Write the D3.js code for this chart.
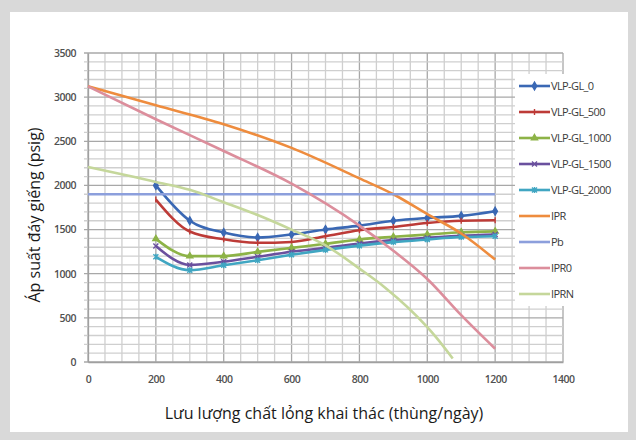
<!DOCTYPE html>
<html>
<head>
<meta charset="utf-8">
<script src="https://cdn.jsdelivr.net/npm/d3@7"></script>
<style>
  body { margin: 0; background: #d9d9d9; }
  svg { display: block; }
</style>
</head>
<body>
<script>
// values
var qVLP = [200, 300, 400, 500, 600, 700, 800, 900, 1000, 1100, 1200];
var vlp0    = [2000, 1600, 1466, 1410, 1445, 1500, 1545, 1600, 1632, 1655, 1708];
var vlp500  = [1840, 1478, 1390, 1350, 1360, 1425, 1493, 1530, 1575, 1600, 1605];
var vlp1000 = [1395, 1199, 1200, 1247, 1293, 1339, 1388, 1418, 1444, 1470, 1480];
var vlp1500 = [1315, 1100, 1135, 1192, 1248, 1293, 1342, 1380, 1406, 1430, 1444];
var vlp2000 = [1192, 1040, 1095, 1153, 1215, 1270, 1318, 1358, 1388, 1415, 1425];

var qIPR  = [0, 200, 400, 600, 800, 900, 1000, 1100, 1200];
var ipr   = [3122, 2908, 2694, 2425, 2080, 1900, 1675, 1455, 1160];
var qPb   = [0, 1200];
var pb    = [1900, 1900];
var qIPR0 = [0, 200, 400, 600, 800, 900, 1000, 1100, 1200];
var ipr0  = [3122, 2750, 2390, 2020, 1545, 1260, 940, 530, 150];
var qIPRN = [0, 200, 300, 400, 500, 600, 700, 800, 875, 1000, 1025, 1075];
var iprn  = [2208, 2040, 1950, 1810, 1665, 1500, 1322, 1058, 845, 395, 285, 40];

var xTicks = [0, 200, 400, 600, 800, 1000, 1200, 1400];
var yTicks = [0, 500, 1000, 1500, 2000, 2500, 3000, 3500];

var series = [
  {name: "VLP-GL_0",    q: qVLP,  p: vlp0,    color: "#3a68b4", marker: "diamond"},
  {name: "VLP-GL_500",  q: qVLP,  p: vlp500,  color: "#bd3b37", marker: "dash"},
  {name: "VLP-GL_1000", q: qVLP,  p: vlp1000, color: "#8db347", marker: "triangle"},
  {name: "VLP-GL_1500", q: qVLP,  p: vlp1500, color: "#6a509e", marker: "cross"},
  {name: "VLP-GL_2000", q: qVLP,  p: vlp2000, color: "#40a6c2", marker: "star"},
  {name: "IPR",         q: qIPR,  p: ipr,     color: "#ee8c3e", marker: null},
  {name: "Pb",          q: qPb,   p: pb,      color: "#8c9fdc", marker: null},
  {name: "IPR0",        q: qIPR0, p: ipr0,    color: "#dc8e9c", marker: null},
  {name: "IPRN",        q: qIPRN, p: iprn,    color: "#c5d79b", marker: null}
];

var width = 636, height = 440;
var plot = {l: 88, r: 563, t: 53, b: 362};

var svg = d3.select("body").append("svg")
  .attr("width", width)
  .attr("height", height);

// grey frame + white card
svg.append("rect").attr("width", width).attr("height", height).attr("fill", "#d9d9d9");
svg.append("rect").attr("x", 10).attr("y", 12).attr("width", 618).attr("height", 420).attr("fill", "#ffffff");

var x = d3.scaleLinear().domain([0, 1400]).range([plot.l, plot.r]);
var y = d3.scaleLinear().domain([0, 3500]).range([plot.b, plot.t]);

// gridlines, minor first
var grid = svg.append("g");
grid.selectAll(".vmin").data(d3.range(0, 1401, 50)).enter().append("line")
  .attr("x1", function(d) { return x(d); }).attr("x2", function(d) { return x(d); })
  .attr("y1", plot.t).attr("y2", plot.b)
  .attr("stroke", function(d) { return d % 200 == 0 ? "#a8a8a8" : "#cfcfcf"; })
  .attr("stroke-width", 1.3);
grid.selectAll(".hmin").data(d3.range(0, 3501, 100)).enter().append("line")
  .attr("x1", plot.l - 4).attr("x2", plot.r)
  .attr("y1", function(d) { return y(d); }).attr("y2", function(d) { return y(d); })
  .attr("stroke", function(d) { return d % 500 == 0 ? "#a8a8a8" : "#cfcfcf"; })
  .attr("stroke-width", 1.3);

// axes
var font = "'Open Sans', 'Noto Sans', sans-serif";
var xAxis = svg.append("g")
  .attr("transform", "translate(0," + plot.b + ")")
  .call(d3.axisBottom(x).tickValues(xTicks).tickSize(0).tickPadding(14).tickFormat(d3.format("d")));
var yAxis = svg.append("g")
  .attr("transform", "translate(" + plot.l + ",0)")
  .call(d3.axisLeft(y).tickValues(yTicks).tickSize(0).tickPadding(12).tickFormat(d3.format("d")));
[xAxis, yAxis].forEach(function(a) {
  a.select(".domain").attr("stroke", "#a0a0a0").attr("stroke-width", 1.3);
  a.selectAll("text").attr("font-family", font).attr("font-size", 10.5)
    .attr("font-weight", 600).attr("fill", "#505050").attr("letter-spacing", -0.5);
});

// lines
var line = d3.line()
  .x(function(d) { return x(d[0]); })
  .y(function(d) { return y(d[1]); })
  .curve(d3.curveMonotoneX);

function markerPath(type) {
  switch (type) {
    case "diamond":  return d3.symbol().type(d3.symbolDiamond).size(18)();
    case "triangle": return d3.symbol().type(d3.symbolTriangle).size(16)();
    case "cross":    return "M-2.5,-2.5L2.5,2.5M-2.5,2.5L2.5,-2.5";
    case "star":     return "M-2.5,-2.5L2.5,2.5M-2.5,2.5L2.5,-2.5M0,-3L0,3";
    case "dash":     return "M0,-3L0,3";
  }
  return null;
}

series.forEach(function(s) {
  var pts = s.q.map(function(q, i) { return [q, s.p[i]]; });
  var g = svg.append("g");
  g.append("path").datum(pts)
    .attr("d", line)
    .attr("fill", "none")
    .attr("stroke", s.color)
    .attr("stroke-width", 2.6)
    .attr("stroke-linejoin", "round");
  if (s.marker) {
    g.selectAll(".m").data(pts).enter().append("path")
      .attr("transform", function(d) { return "translate(" + x(d[0]) + "," + y(d[1]) + ")"; })
      .attr("d", markerPath(s.marker))
      .attr("fill", s.color)
      .attr("stroke", s.color)
      .attr("stroke-width", 1.4);
  }
});

// legend (white box over the right of the plot)
var leg = svg.append("g");
leg.append("rect").attr("x", 515).attr("y", 74).attr("width", 113).attr("height", 232).attr("fill", "#ffffff");
var legRow = d3.scaleLinear().domain([0, 1]).range([86, 112]);
series.forEach(function(s, i) {
  var ly = legRow(i);
  leg.append("line").attr("x1", 519).attr("x2", 550).attr("y1", ly).attr("y2", ly)
    .attr("stroke", s.color).attr("stroke-width", 2.6);
  if (s.marker) {
    leg.append("path").attr("transform", "translate(534.5," + ly + ")")
      .attr("d", markerPath(s.marker)).attr("fill", s.color)
      .attr("stroke", s.color).attr("stroke-width", 1.4);
  }
  leg.append("text").attr("x", 551).attr("y", ly).attr("dy", "0.35em")
    .attr("font-family", font).attr("font-size", 11).attr("letter-spacing", -0.6)
    .attr("fill", "#3a3a3a").text(s.name);
});

// axis titles
svg.append("text")
  .attr("transform", "translate(40,215) rotate(-90)")
  .attr("text-anchor", "middle")
  .attr("font-family", font).attr("font-size", 16).attr("fill", "#1a1a1a")
  .text("Áp suất đáy giếng (psig)");
svg.append("text")
  .attr("x", 324).attr("y", 419)
  .attr("text-anchor", "middle")
  .attr("font-family", font).attr("font-size", 16).attr("fill", "#1a1a1a")
  .text("Lưu lượng chất lỏng khai thác (thùng/ngày)");
</script>
</body>
</html>
